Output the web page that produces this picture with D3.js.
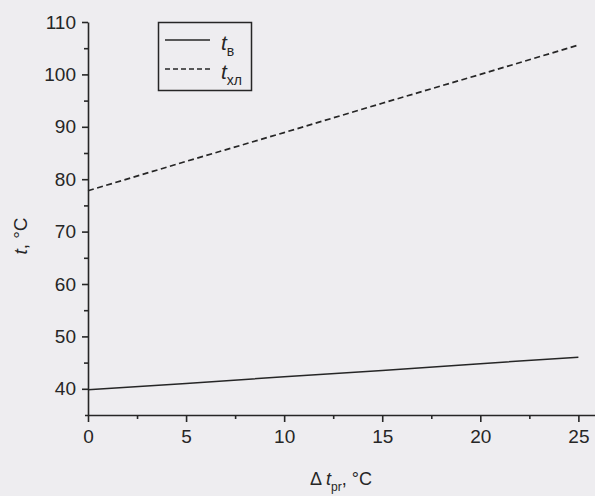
<!DOCTYPE html>
<html>
<head>
<meta charset="utf-8">
<script src="https://cdn.jsdelivr.net/npm/d3@7"></script>
<style>
  html, body { margin: 0; padding: 0; background: #eeedf0; }
  svg { display: block; }
  svg text { font-family: 'Liberation Sans', Arial, sans-serif; }
</style>
</head>
<body>
<div id="graph"></div>
<script>
// readings from the figure
const dtPr = [0, 5, 10, 15, 20, 25]
const tV = [39.8, 41.0, 42.3, 43.5, 44.8, 46.0]
const tXl = [77.8, 83.4, 88.9, 94.5, 100.0, 105.6]
const xTicks = [0, 5, 10, 15, 20, 25]
const yTicks = [40, 50, 60, 70, 80, 90, 100, 110]

const width = 595
const height = 496
const ink = '#262626'
const font = "'Liberation Sans', Arial, sans-serif"

const svg = d3.select('#graph')
  .append('svg')
  .attr('width', width)
  .attr('height', height)

const x = d3.scaleLinear().domain([0, 26]).range([88, 598])
const y = d3.scaleLinear().domain([35, 110]).range([415, 22])

// x axis (minor ticks, then major)
svg.append('g')
  .attr('transform', `translate(0,${y(35)})`)
  .call(d3.axisBottom(x).tickValues(d3.range(2.5, 26, 5)).tickSize(4).tickFormat(''))
  .call(g => g.select('.domain').remove())
svg.append('g')
  .attr('transform', `translate(0,${y(35)})`)
  .call(d3.axisBottom(x).tickValues(xTicks).tickSize(7).tickPadding(8).tickSizeOuter(0))
  .call(g => g.select('.domain').attr('d', `M${x(0) - 3},0.5H${width}`))

// y axis
svg.append('g')
  .attr('transform', `translate(${x(0)},0)`)
  .call(d3.axisLeft(y).tickValues(d3.range(45, 110, 10)).tickSize(4).tickFormat(''))
  .call(g => g.select('.domain').remove())
svg.append('g')
  .attr('transform', `translate(${x(0)},0)`)
  .call(d3.axisLeft(y).tickValues(yTicks).tickSize(6).tickPadding(6).tickSizeOuter(0))

svg.selectAll('g').attr('font-family', font)
svg.selectAll('.tick line, .domain')
  .attr('stroke', ink)
  .attr('stroke-width', 1.6)
svg.selectAll('.tick text')
  .attr('fill', ink)
  .style('font-size', '19px')

// lines
const line = d3.line().x(d => x(d[0])).y(d => y(d[1]))

svg.append('path')
  .datum(d3.zip(dtPr, tV))
  .attr('d', line)
  .attr('fill', 'none')
  .attr('stroke', ink)
  .attr('stroke-width', 1.5)

svg.append('path')
  .datum(d3.zip(dtPr, tXl))
  .attr('d', line)
  .attr('fill', 'none')
  .attr('stroke', ink)
  .attr('stroke-width', 1.7)
  .attr('stroke-dasharray', '6,3.5')

// legend
const legend = svg.append('g')
legend.append('rect')
  .attr('x', 158.5).attr('y', 22.5)
  .attr('width', 93).attr('height', 68)
  .attr('fill', 'none')
  .attr('stroke', ink)
  .attr('stroke-width', 1.5)

const items = [
  {sub: 'в', dash: null, cy: 40},
  {sub: 'хл', dash: '5,3', cy: 69}
]
items.forEach(d => {
  legend.append('line')
    .attr('x1', 165).attr('x2', 210)
    .attr('y1', d.cy).attr('y2', d.cy)
    .attr('stroke', ink)
    .attr('stroke-width', 1.4)
    .attr('stroke-dasharray', d.dash)
  const t = legend.append('text')
    .attr('x', 221).attr('y', d.cy + 10)
    .attr('fill', ink)
    .style('font-size', '21px')
  t.append('tspan').style('font-style', 'italic').text('t')
  t.append('tspan').attr('dy', 6).style('font-size', '14px').text(d.sub)
})

// axis titles
const yLab = svg.append('text')
  .attr('transform', 'translate(27,236) rotate(-90)')
  .attr('text-anchor', 'middle')
  .attr('fill', ink)
  .style('font-size', '19px')
yLab.append('tspan').style('font-style', 'italic').text('t')
yLab.append('tspan').text(', °C')

const xLab = svg.append('text')
  .attr('x', 341).attr('y', 485)
  .attr('text-anchor', 'middle')
  .attr('fill', ink)
  .style('font-size', '18px')
xLab.append('tspan').text('Δ ')
xLab.append('tspan').style('font-style', 'italic').text('t')
xLab.append('tspan').attr('dy', 6).style('font-size', '12px').text('pr')
xLab.append('tspan').attr('dy', -6).text(', °C')
</script>
</body>
</html>
